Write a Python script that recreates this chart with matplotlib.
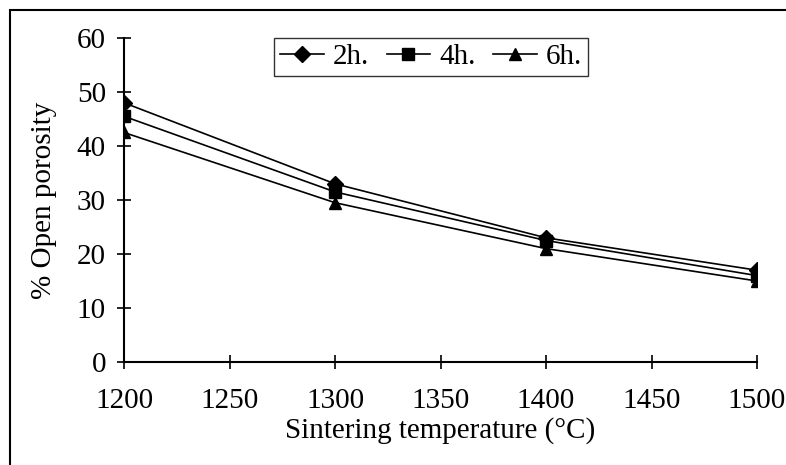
import matplotlib.pyplot as plt
from matplotlib.patches import Rectangle

temps = [1200, 1300, 1400, 1500]
p2h = [48, 33, 23, 17]
p4h = [45.5, 31.5, 22.5, 16]
p6h = [42.5, 29.5, 21, 15]

plt.rcParams['font.family'] = ['Liberation Serif', 'DejaVu Serif']
fig = plt.figure(figsize=(7.86, 4.65), dpi=100)
ax = fig.add_axes([124/786, 1-362/465, (757-124)/786, (362-38)/465])

ax.plot(temps, p2h, color='black', lw=1.2, marker='D', ms=8, label='2h.')
ax.plot(temps, p4h, color='black', lw=1.2, marker='s', ms=8, label='4h.')
ax.plot(temps, p6h, color='black', lw=1.2, marker='^', ms=9, label='6h.')

ax.set_xlim(1200, 1500)
ax.set_ylim(0, 60)
ax.set_xticks(range(1200, 1501, 50))
ax.set_yticks(range(0, 61, 10))
ax.spines['top'].set_visible(False)
ax.spines['right'].set_visible(False)
ax.tick_params(direction='inout', length=10, width=1.2, labelsize=21, pad=8)
ax.tick_params(axis='x', pad=14)
for s in ax.spines.values():
    s.set_linewidth(1.5)
ax.set_xlabel('Sintering temperature (\u00b0C)', fontsize=21, labelpad=2)
ax.set_ylabel('% Open porosity', fontsize=21, labelpad=14)
ax.legend(loc='upper center', ncol=3, fontsize=21, frameon=True, fancybox=False,
          edgecolor='black', handlelength=1.5, columnspacing=0.6,
          handletextpad=0.3, borderpad=0.2, bbox_to_anchor=(0.485, 1.045))

fig.patches.append(Rectangle((10/786, -0.1), 1.2, 1-10/465+0.1, transform=fig.transFigure,
                             fill=False, edgecolor='black', lw=1.5))
plt.savefig('out.png', dpi=100)
